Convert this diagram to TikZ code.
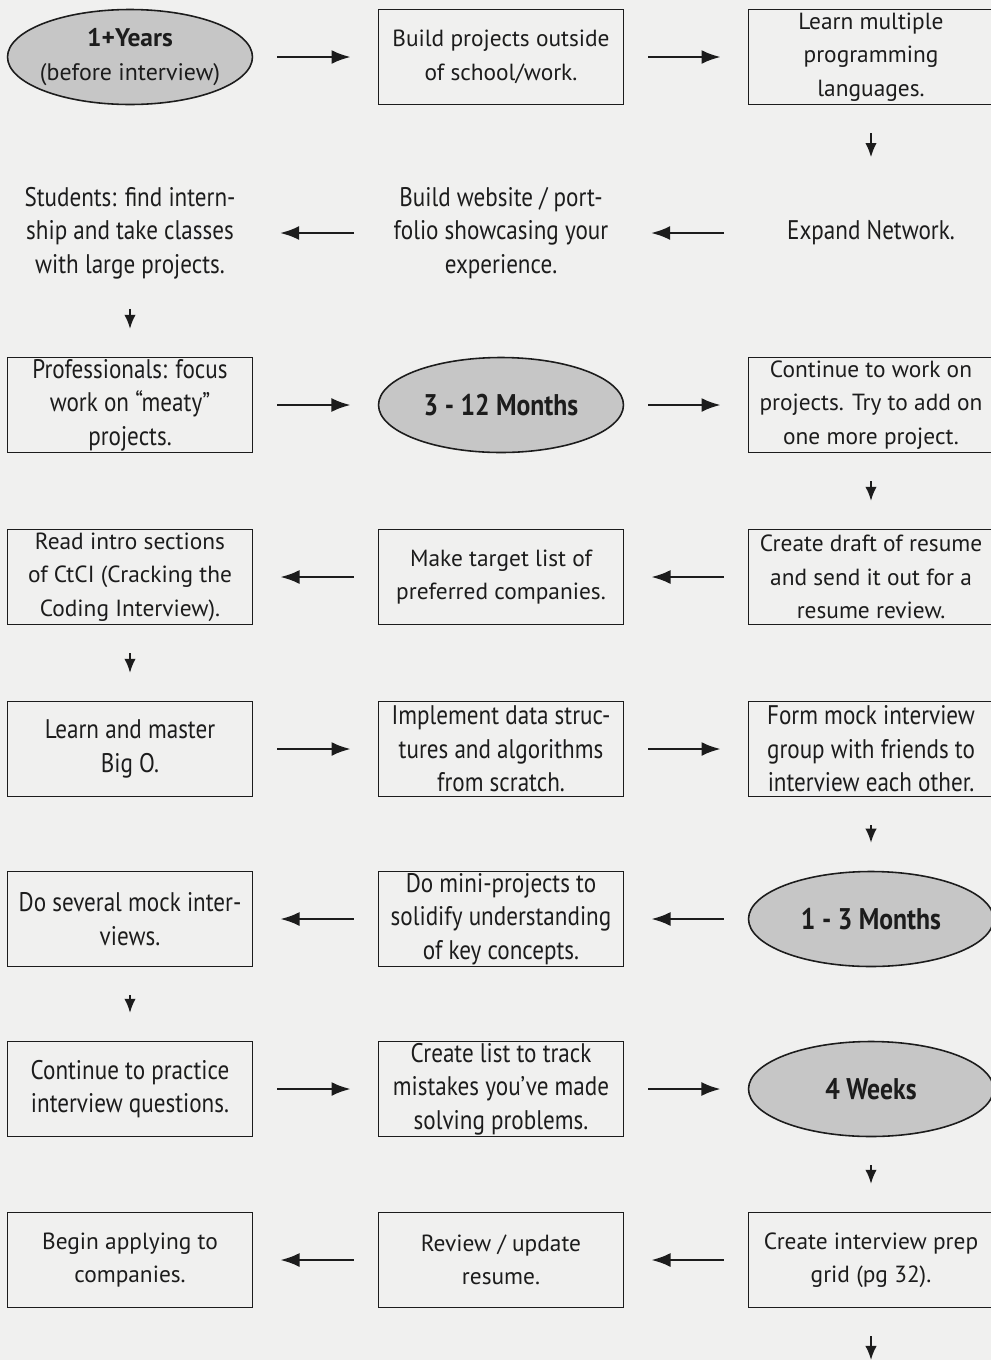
\documentclass[tikz,border=0pt]{standalone}
\usepackage{fontspec}
\setmainfont{PT Sans}
\newfontfamily\narrowfont[FakeStretch=0.86]{PT Sans}
\usetikzlibrary{arrows.meta,shapes.geometric}
\definecolor{paper}{RGB}{240,240,239}
\definecolor{ink}{RGB}{28,28,28}
\definecolor{oval}{RGB}{198,198,198}
\tikzset{
  stepnode/.style={minimum width=4.9cm,minimum height=1.9cm,align=center,inner sep=0pt,
    text=ink,font=\fontsize{13.3}{19}\selectfont},
  stepbox/.style={stepnode,draw=ink,line width=0.8pt},
  narrow/.style={font=\narrowfont\fontsize{15.3}{19}\selectfont},
  period/.style={stepnode,ellipse,draw=ink,fill=oval,line width=0.9pt,inner xsep=-12pt,
    font=\bfseries\fontsize{14.5}{19}\selectfont},
  flow/.style={ink,line width=1.6pt,-{Latex[length=11pt,width=8pt]},
    shorten <=0.48cm,shorten >=0.54cm},
  down/.style={ink,line width=1pt,-{Latex[length=8pt,width=6.5pt]},
    shorten <=0.56cm,shorten >=0.56cm},
}
\begin{document}
\begin{tikzpicture}[x=0.02cm,y=-0.02cm]
  \fill[paper] (0,0) rectangle (991,1360);
  \useasboundingbox (0,0) rectangle (991,1360);

  % row 1
  \node[period] (e1) at (130,57) {1+Years\\{\mdseries\fontsize{13.6}{19}\selectfont (before interview)}};
  \node[stepbox] (b12) at (501,57) {Build projects outside\\of school/work.};
  \node[stepbox] (b13) at (871,57) {Learn multiple\\programming\\languages.};
  % row 2
  \node[stepnode,narrow] (t21) at (130,233) {Students: find intern-\\ship and take classes\\with large projects.};
  \node[stepnode,narrow] (t22) at (501,233) {Build website / port-\\folio showcasing your\\experience.};
  \node[stepnode,narrow] (t23) at (871,233) {Expand Network.};
  % row 3
  \node[stepbox,narrow] (b31) at (130,405) {Professionals: focus\\work on “meaty”\\projects.};
  \node[period] (e32) at (501,405) {\narrowfont\fontsize{17}{19}\selectfont 3 - 12 Months};
  \node[stepbox] (b33) at (871,405) {Continue to work on\\projects. Try to add on\\one more project.};
  % row 4
  \node[stepbox] (b41) at (130,577) {Read intro sections\\of CtCI (Cracking the\\Coding Interview).};
  \node[stepbox] (b42) at (501,577) {Make target list of\\preferred companies.};
  \node[stepbox] (b43) at (871,577) {Create draft of resume\\and send it out for a\\resume review.};
  % row 5
  \node[stepbox,narrow] (b51) at (130,749) {Learn and master\\Big O.};
  \node[stepbox,narrow] (b52) at (501,749) {Implement data struc-\\tures and algorithms\\from scratch.};
  \node[stepbox,narrow] (b53) at (871,749) {Form mock interview\\group with friends to\\interview each other.};
  % row 6
  \node[stepbox,narrow] (b61) at (130,919) {Do several mock inter-\\views.};
  \node[stepbox,narrow] (b62) at (501,919) {Do mini-projects to\\solidify understanding\\of key concepts.};
  \node[period] (e63) at (871,919) {\narrowfont\fontsize{17}{19}\selectfont 1 - 3 Months};
  % row 7
  \node[stepbox,narrow] (b71) at (130,1089) {Continue to practice\\interview questions.};
  \node[stepbox,narrow] (b72) at (501,1089) {Create list to track\\mistakes you’ve made\\solving problems.};
  \node[period] (e73) at (871,1089) {\narrowfont\fontsize{17}{19}\selectfont 4 Weeks};
  % row 8
  \node[stepbox] (b81) at (130,1260) {Begin applying to\\companies.};
  \node[stepbox] (b82) at (501,1260) {Review / update\\resume.};
  \node[stepbox] (b83) at (871,1260) {Create interview prep\\grid (pg 32).};
  \coordinate (next) at (871,1360);

  \foreach \a/\b in {e1/b12,b12/b13,t23/t22,t22/t21,b31/e32,e32/b33,b43/b42,b42/b41,
      b51/b52,b52/b53,e63/b62,b62/b61,b71/b72,b72/e73,b83/b82,b82/b81}
    \draw[flow] (\a) -- (\b);
  \foreach \a/\b in {b13/t23,t21/b31,b33/b43,b41/b51,b53/e63,b61/b71,e73/b83}
    \draw[down] (\a) -- (\b);
  \draw[down,shorten >=0pt] (b83) -- (next);
\end{tikzpicture}
\end{document}
